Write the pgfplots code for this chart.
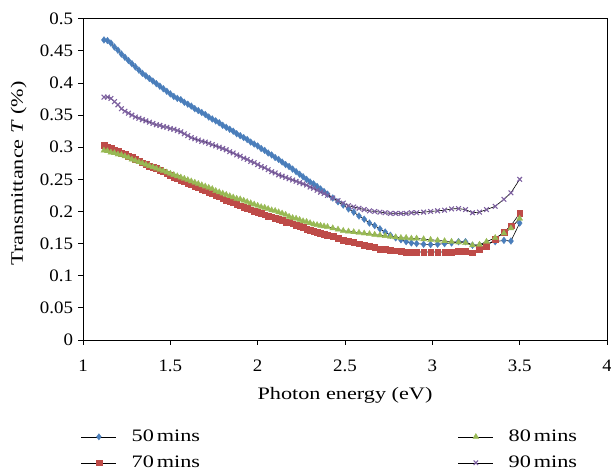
\documentclass[border=0pt]{standalone}
\usepackage{fontspec}
\setmainfont[FakeStretch=1.08]{Liberation Serif}
\newfontfamily\labelfont[FakeStretch=1.27]{Liberation Serif}
\usepackage{pgfplots}
\usepackage{pgfplotstable}
\pgfplotsset{compat=1.18}
\definecolor{cb}{HTML}{4A7EBB}
\definecolor{cr}{HTML}{BE4B48}
\definecolor{cg}{HTML}{98B954}
\definecolor{cp}{HTML}{7D60A0}

\pgfplotstableread{
E b r g p
1.12 0.467 0.303 0.295 0.378
1.14 0.466 0.301 0.294 0.378
1.16 0.462 0.298 0.292 0.376
1.18 0.456 0.296 0.291 0.371
1.20 0.451 0.294 0.289 0.366
1.22 0.445 0.291 0.288 0.360
1.24 0.440 0.289 0.286 0.356
1.26 0.435 0.286 0.284 0.353
1.28 0.430 0.284 0.281 0.350
1.30 0.425 0.281 0.279 0.347
1.32 0.420 0.279 0.277 0.345
1.34 0.415 0.276 0.275 0.343
1.36 0.411 0.274 0.273 0.341
1.38 0.407 0.271 0.271 0.339
1.40 0.403 0.269 0.269 0.337
1.42 0.399 0.267 0.267 0.335
1.44 0.395 0.264 0.265 0.334
1.46 0.391 0.262 0.263 0.332
1.48 0.387 0.259 0.261 0.331
1.50 0.383 0.257 0.259 0.329
1.52 0.379 0.254 0.257 0.328
1.54 0.376 0.252 0.255 0.326
1.56 0.374 0.249 0.253 0.324
1.58 0.370 0.247 0.251 0.321
1.60 0.367 0.244 0.249 0.318
1.62 0.364 0.242 0.247 0.315
1.64 0.360 0.240 0.245 0.313
1.66 0.357 0.237 0.243 0.311
1.68 0.354 0.235 0.241 0.309
1.70 0.351 0.233 0.239 0.308
1.72 0.347 0.230 0.237 0.306
1.74 0.344 0.228 0.235 0.304
1.76 0.341 0.225 0.232 0.302
1.78 0.338 0.223 0.230 0.300
1.80 0.334 0.220 0.228 0.298
1.82 0.331 0.218 0.226 0.296
1.84 0.328 0.216 0.224 0.293
1.86 0.325 0.214 0.222 0.291
1.88 0.321 0.211 0.220 0.288
1.90 0.318 0.209 0.219 0.286
1.92 0.315 0.207 0.217 0.283
1.94 0.312 0.205 0.215 0.281
1.96 0.308 0.203 0.213 0.278
1.98 0.305 0.201 0.211 0.276
2.00 0.302 0.199 0.209 0.273
2.02 0.298 0.197 0.207 0.270
2.04 0.295 0.195 0.206 0.268
2.06 0.291 0.193 0.204 0.265
2.08 0.288 0.192 0.202 0.262
2.10 0.284 0.190 0.201 0.260
2.12 0.281 0.188 0.199 0.257
2.14 0.277 0.186 0.197 0.255
2.16 0.273 0.184 0.195 0.253
2.18 0.270 0.183 0.192 0.251
2.20 0.266 0.181 0.190 0.249
2.22 0.262 0.179 0.189 0.247
2.24 0.258 0.177 0.187 0.245
2.26 0.254 0.175 0.185 0.243
2.28 0.250 0.173 0.184 0.241
2.30 0.246 0.171 0.182 0.238
2.32 0.243 0.169 0.180 0.236
2.34 0.239 0.168 0.179 0.233
2.36 0.235 0.166 0.178 0.230
2.38 0.231 0.165 0.177 0.228
2.40 0.227 0.163 0.176 0.225
2.43 0.221 0.161 0.174 0.221
2.46 0.215 0.158 0.172 0.217
2.49 0.210 0.156 0.170 0.213
2.52 0.204 0.154 0.169 0.209
2.55 0.199 0.152 0.168 0.207
2.58 0.193 0.150 0.167 0.205
2.61 0.188 0.148 0.166 0.203
2.64 0.182 0.146 0.165 0.201
2.67 0.178 0.144 0.164 0.200
2.70 0.173 0.142 0.163 0.199
2.73 0.168 0.141 0.162 0.198
2.76 0.163 0.140 0.161 0.197
2.79 0.159 0.139 0.160 0.197
2.82 0.156 0.138 0.159 0.197
2.85 0.153 0.137 0.159 0.197
2.88 0.151 0.137 0.158 0.198
2.91 0.150 0.137 0.158 0.198
2.95 0.149 0.137 0.157 0.199
2.99 0.1485 0.137 0.156 0.200
3.03 0.149 0.137 0.155 0.201
3.07 0.150 0.137 0.154 0.202
3.11 0.151 0.137 0.153 0.204
3.15 0.153 0.138 0.152 0.2045
3.19 0.153 0.138 0.151 0.203
3.23 0.1475 0.136 0.1475 0.198
3.27 0.1475 0.141 0.1485 0.199
3.31 0.150 0.146 0.153 0.203
3.36 0.153 0.157 0.159 0.208
3.41 0.155 0.168 0.166 0.219
3.45 0.154 0.178 0.174 0.229
3.50 0.182 0.197 0.189 0.250
}\datatable

\begin{document}
\begin{tikzpicture}[font=\fontsize{17.5bp}{21bp}\selectfont]
\begin{axis}[
  scale only axis, width=524bp, height=321.3bp,
  xmin=1, xmax=4, ymin=0, ymax=0.5,
  xtick={1,1.5,2,2.5,3,3.5,4},
  ytick={0,0.05,0.1,0.15,0.2,0.25,0.3,0.35,0.4,0.45,0.5},
  tick align=outside, tick pos=left, major tick length=4.5bp,
  axis line style={line width=0.8bp},
  tick style={line width=0.8bp, black},
  /pgf/number format/assume math mode=true,
  /pgf/number format/fixed, /pgf/number format/precision=2,
  xticklabel style={anchor=base, yshift=-27bp},
  yticklabel style={xshift=-2bp},
  xlabel={Photon energy (eV)},
  ylabel={Transmittance \textit{T} (\%)},
  label style={font=\fontsize{17.5bp}{21bp}\labelfont},
  xlabel style={at={(axis description cs:0.5,0)}, anchor=base, yshift=-59bp},
  ylabel style={at={(axis description cs:-0.123,0.5185)}, anchor=center},
  legend cell align=left,
  legend columns=2,
  legend style={at={(axis description cs:-0.004,-0.268)}, anchor=north west,
    draw=none, fill=none, inner sep=0pt,
    font=\fontsize{17.5bp}{21bp}\labelfont,
    /tikz/every odd column/.append style={column sep=13bp},
    /tikz/every even column/.append style={column sep=256bp},
    nodes={inner sep=2bp, text height=13bp, text depth=4bp},
    row sep=5bp},
  legend image code/.code={\draw[mark repeat=2,mark phase=2,#1] plot coordinates {(0bp,0bp) (17.5bp,0bp) (35bp,0bp)};},
]
\addplot[black, line width=0.6bp, mark=diamond*, mark size=3.4bp, mark options={draw=cb, fill=cb, line width=0.3bp}, forget plot] table[x=E, y=b] {\datatable};
\addplot[black, line width=0.6bp, mark=square*, mark size=2.9bp, mark options={draw=cr, fill=cr, line width=0.3bp}, forget plot] table[x=E, y=r] {\datatable};
\addplot[black, line width=0.6bp, mark=triangle*, mark size=3.5bp, mark options={draw=cg, fill=cg, line width=0.3bp}, forget plot] table[x=E, y=g] {\datatable};
\addplot[black, line width=0.6bp, mark=x, mark size=3.3bp, mark options={draw=cp, line width=1.1bp}, forget plot] table[x=E, y=p] {\datatable};

\addlegendimage{black, line width=0.6bp, mark=diamond*, mark size=3.2bp, mark options={draw=cb, fill=cb, line width=0.3bp}}
\addlegendentry{50\,mins}
\addlegendimage{black, line width=0.6bp, mark=triangle*, mark size=3.4bp, mark options={draw=cg, fill=cg, line width=0.3bp}}
\addlegendentry{80\,mins}
\addlegendimage{black, line width=0.6bp, mark=square*, mark size=2.8bp, mark options={draw=cr, fill=cr, line width=0.3bp}}
\addlegendentry{70\,mins}
\addlegendimage{black, line width=0.6bp, mark=x, mark size=3.2bp, mark options={draw=cp, line width=1bp}}
\addlegendentry{90\,mins}
\end{axis}
\pgfresetboundingbox
\useasboundingbox (-83bp,-130bp) rectangle (528bp,340bp);
\end{tikzpicture}
\end{document}
